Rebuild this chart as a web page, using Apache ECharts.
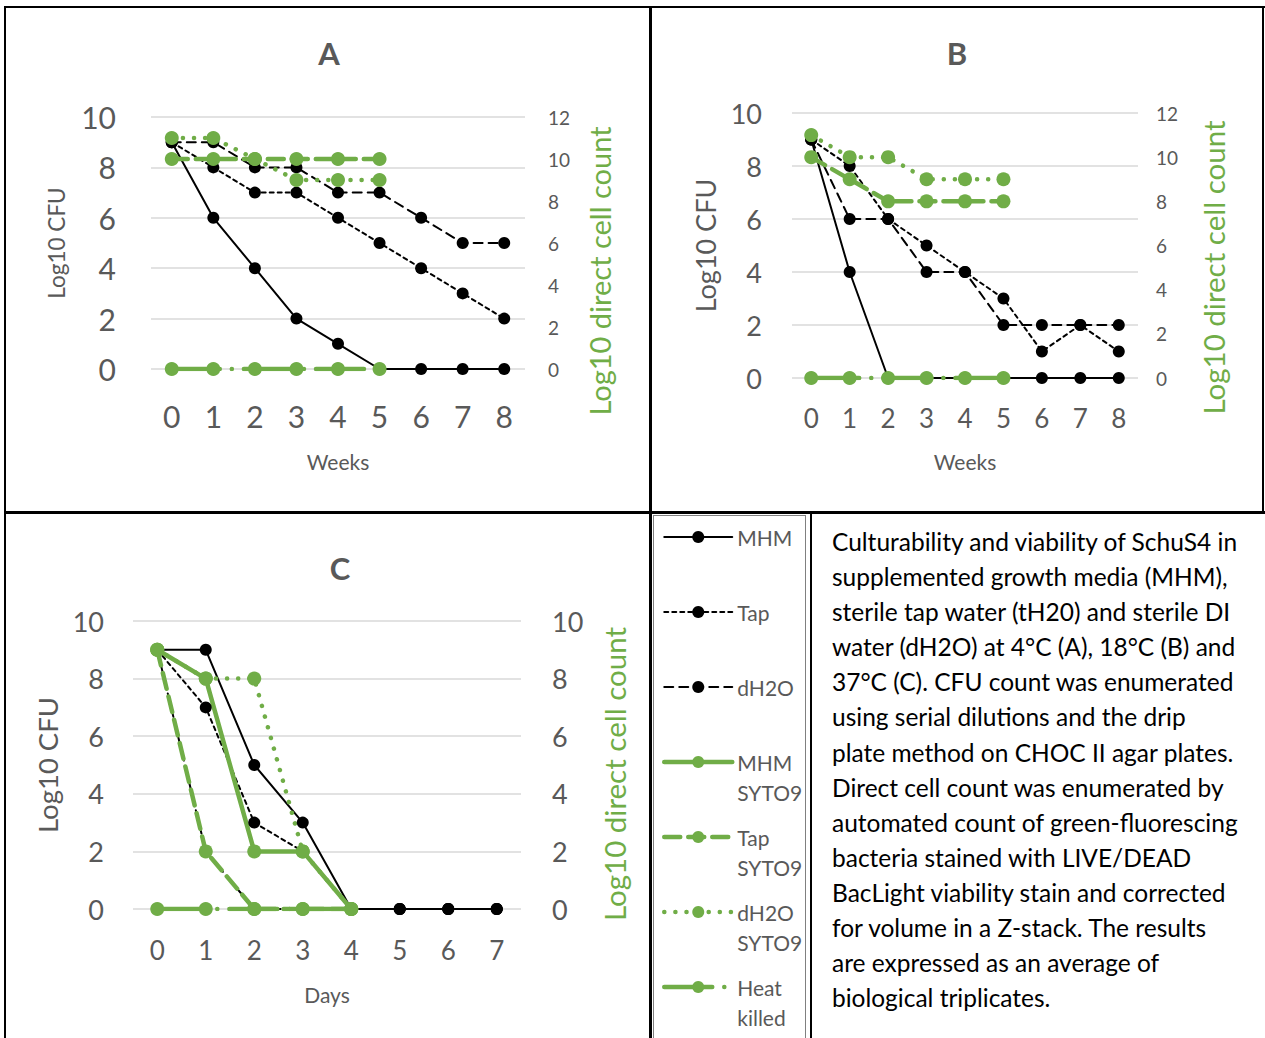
<!DOCTYPE html>
<html>
<head>
<meta charset="utf-8">
<script src="https://cdn.jsdelivr.net/npm/echarts@6/dist/echarts.min.js"></script>
<style>
  body { margin: 0; background: #fff; }
  #page { position: relative; width: 1265px; height: 1038px; overflow: hidden; font-family: Lato, sans-serif; }
  .ln { position: absolute; background: #000; }
  .chart { position: absolute; }
  #legendBox { position: absolute; left: 653px; top: 515px; width: 151px; height: 540px; border: 1px solid #808080; }
  #caption { position: absolute; left: 812px; top: 514px; padding: 10px 0 0 20px; font-size: 24.5px; line-height: 35.1px; color: #000; white-space: nowrap; }
</style>
</head>
<body>
<div id="page">
  <div class="ln" style="left:4px;top:6px;width:1261px;height:2px"></div>
  <div class="ln" style="left:4px;top:6px;width:2px;height:1032px"></div>
  <div class="ln" style="left:649px;top:6px;width:3px;height:1032px"></div>
  <div class="ln" style="left:1262px;top:6px;width:2px;height:508px"></div>
  <div class="ln" style="left:4px;top:511px;width:1261px;height:3px"></div>
  <div class="ln" style="left:810px;top:514px;width:2px;height:524px"></div>
  <div id="legendBox"></div>

  <div class="chart" id="chartA" style="left:0;top:0;width:649px;height:511px"></div>
  <div class="chart" id="chartB" style="left:652px;top:0;width:610px;height:511px"></div>
  <!-- panel C also carries the legend, so its box reaches into the legend cell -->
  <div class="chart" id="chartC" style="left:0;top:470px;width:805px;height:568px"></div>

  <div id="caption">Culturability and viability of SchuS4 in<br>supplemented growth media (MHM),<br>sterile tap water (tH20) and sterile DI<br>water (dH2O) at 4°C (A), 18°C (B) and<br>37°C (C). CFU count was enumerated<br>using serial dilutions and the drip<br>plate method on CHOC II agar plates.<br>Direct cell count was enumerated by<br>automated count of green-fluorescing<br>bacteria stained with LIVE/DEAD<br>BacLight viability stain and corrected<br>for volume in a Z-stack. The results<br>are expressed as an average of<br>biological triplicates.</div>
</div>

<script>
// categories
const weeks = ['0', '1', '2', '3', '4', '5', '6', '7', '8'];
const days = ['0', '1', '2', '3', '4', '5', '6', '7'];

// axis ranges (ticks every 2)
const cfuMax = 10;
const cellMaxAB = 12;
const cellMaxC = 10;
const tickStep = 2;

// panel A (4 C), Log10 CFU
const mhmA = [9, 6, 4, 2, 1, 0, 0, 0, 0];
const tapA = [9, 8, 7, 7, 6, 5, 4, 3, 2];
const dh2oA = [9, 9, 8, 8, 7, 7, 6, 5, 5];
// panel A, Log10 direct cell count
const tapSytoA = [10, 10, 10, 10, 10, 10];
const dh2oSytoA = [11, 11, 10, 9, 9, 9];
const heatA = [0, 0, 0, 0, 0, 0];

// panel B (18 C)
const mhmB = [9, 4, 0, 0, 0, 0, 0, 0, 0];
const tapB = [9, 8, 6, 5, 4, 3, 1, 2, 1];
const dh2oB = [9, 6, 6, 4, 4, 2, 2, 2, 2];
const tapSytoB = [10, 9, 8, 8, 8, 8];
const dh2oSytoB = [11, 10, 10, 9, 9, 9];
const heatB = [0, 0, 0, 0, 0, 0];

// panel C (37 C)
const mhmC = [9, 9, 5, 3, 0, 0, 0, 0];
const tapC = [9, 7, 3, 2, 0, 0, 0, 0];
const dh2oC = [9, 2, 0, 0, 0, 0, 0, 0];
const mhmSytoC = [9, 8, 2, 2, 0];
const tapSytoC = [9, 2, 0, 0, 0];
const dh2oSytoC = [9, 8, 8, 2, 0];
const heatC = [0, 0, 0, 0, 0];

const legendNames = ['MHM', 'Tap', 'dH2O', 'MHM SYTO9', 'Tap SYTO9', 'dH2O SYTO9', 'Heat killed'];

const FONT = 'Lato';
const GRAY = '#595959';
const GREEN = '#70AD47';

// line looks, shared by panels and legend
const styles = {
  'MHM': { color: '#000', width: 2, type: 'solid', size: 12, axis: 0 },
  'Tap': { color: '#000', width: 2, type: [4, 4], size: 12, axis: 0 },
  'dH2O': { color: '#000', width: 2, type: [9, 6], size: 12, axis: 0 },
  'MHM SYTO9': { color: GREEN, width: 4.5, type: 'solid', size: 14, axis: 1 },
  'Tap SYTO9': { color: GREEN, width: 4.5, type: [16, 8], size: 14, axis: 1 },
  'dH2O SYTO9': { color: GREEN, width: 4.5, type: [0.1, 11], size: 14, axis: 1 },
  'Heat killed': { color: GREEN, width: 4.5, type: [48, 12, 0.1, 12], size: 14, axis: 1 }
};

function line (name, data) {
  const s = styles[name];
  return {
    type: 'line',
    name: name,
    data: data,
    yAxisIndex: s.axis,
    symbol: 'circle',
    symbolSize: s.size,
    itemStyle: { color: s.color },
    lineStyle: { color: s.color, width: s.width, type: s.type, cap: 'round' },
    silent: true
  };
}

function panelOption (p) {
  return {
    animation: false,
    textStyle: { fontFamily: FONT },
    title: {
      text: p.title, left: p.titleX - 5, top: p.titleY, textAlign: 'center',
      textStyle: { fontSize: 31, fontWeight: 'bold', color: GRAY, fontFamily: FONT }
    },
    grid: { left: p.grid[0], top: p.grid[1], width: p.grid[2], height: p.grid[3], containLabel: false, outerBoundsMode: 'none' },
    xAxis: {
      type: 'category', data: p.cats, boundaryGap: true,
      axisLine: { show: false }, axisTick: { show: false },
      axisLabel: { color: GRAY, fontSize: p.xFont, margin: p.xMargin, interval: 0, fontFamily: FONT },
      name: p.xName, nameLocation: 'middle', nameGap: p.xNameGap, nameMoveOverlap: false,
      nameTextStyle: { color: GRAY, fontSize: 21, fontFamily: FONT }
    },
    yAxis: [{
      type: 'value', min: 0, max: cfuMax, interval: tickStep,
      axisLine: { show: false }, axisTick: { show: false },
      splitLine: { lineStyle: { color: '#d9d9d9', width: 1.5 } },
      axisLabel: { color: GRAY, fontSize: p.lFont, margin: p.lMargin, fontFamily: FONT },
      name: 'Log10 CFU', nameLocation: 'middle', nameGap: p.lNameGap, nameMoveOverlap: false,
      nameTextStyle: { color: GRAY, fontSize: p.lNameFont, fontFamily: FONT }
    }, {
      type: 'value', position: 'right', min: 0, max: p.rightMax, interval: tickStep,
      axisLine: { show: false }, axisTick: { show: false }, splitLine: { show: false },
      axisLabel: { color: GRAY, fontSize: p.rFont, margin: p.rMargin, fontFamily: FONT },
      name: 'Log10 direct cell count', nameLocation: 'middle', nameGap: p.rNameGap, nameMoveOverlap: false,
      // right padding slides the rotated name down the axis
      nameTextStyle: { color: GREEN, fontSize: p.rNameFont, fontFamily: FONT, padding: [0, p.rShift * 2, 0, 0] }
    }],
    series: p.series
  };
}

const chartA = echarts.init(document.getElementById('chartA'), null, { renderer: 'svg' });
chartA.setOption(panelOption({
  title: 'A', titleX: 329, titleY: 32,
  grid: [151, 117, 374, 252], cats: weeks, xName: 'Weeks',
  xFont: 30, xMargin: 32, xNameGap: 82,
  lFont: 30, lMargin: 35, lNameGap: 83, lNameFont: 22.5,
  rightMax: cellMaxAB, rFont: 19, rMargin: 23, rNameGap: 60, rNameFont: 29, rShift: 28,
  series: [
    line('MHM', mhmA), line('Tap', tapA), line('dH2O', dh2oA),
    line('Heat killed', heatA), line('Tap SYTO9', tapSytoA), line('dH2O SYTO9', dh2oSytoA)
  ]
}));

const chartB = echarts.init(document.getElementById('chartB'), null, { renderer: 'svg' });
chartB.setOption(panelOption({
  title: 'B', titleX: 305, titleY: 32,
  grid: [140, 113, 346, 265], cats: weeks, xName: 'Weeks',
  xFont: 26, xMargin: 27, xNameGap: 73,
  lFont: 27, lMargin: 30, lNameGap: 73, lNameFont: 27,
  rightMax: cellMaxAB, rFont: 19, rMargin: 18, rNameGap: 60, rNameFont: 29.5, rShift: 22,
  series: [
    line('MHM', mhmB), line('Tap', tapB), line('dH2O', dh2oB),
    line('Heat killed', heatB), line('Tap SYTO9', tapSytoB), line('dH2O SYTO9', dh2oSytoB)
  ]
}));

// panel C: box starts at page y 470 (44 px above the row line)
const chartC = echarts.init(document.getElementById('chartC'), null, { renderer: 'svg' });
const optionC = panelOption({
  title: 'C', titleX: 340, titleY: 77,
  grid: [133, 151, 388, 288], cats: days, xName: 'Days',
  xFont: 26, xMargin: 28, xNameGap: 75,
  lFont: 27, lMargin: 29, lNameGap: 72, lNameFont: 27.5,
  rightMax: cellMaxC, rFont: 27, rMargin: 31, rNameGap: 78, rNameFont: 29.5, rShift: 9,
  series: [
    line('MHM', mhmC), line('Tap', tapC), line('dH2O', dh2oC),
    line('Heat killed', heatC), line('Tap SYTO9', tapSytoC), line('dH2O SYTO9', dh2oSytoC),
    line('MHM SYTO9', mhmSytoC)
  ]
});
optionC.legend = {
  data: legendNames,
  orient: 'vertical',
  left: 662, top: 22, padding: 0,
  itemWidth: 68, itemHeight: 15, itemGap: -15,
  selectedMode: false,
  lineStyle: { width: 'inherit' },
  // three text lines, blank first one, so the label's first word sits level with the icon
  formatter: function (name) {
    const parts = name.split(' ');
    return ' \n' + parts[0] + '\n' + (parts[1] || ' ');
  },
  textStyle: { color: GRAY, fontSize: 21, lineHeight: 30, fontFamily: FONT }
};
chartC.setOption(optionC);
</script>
</body>
</html>
